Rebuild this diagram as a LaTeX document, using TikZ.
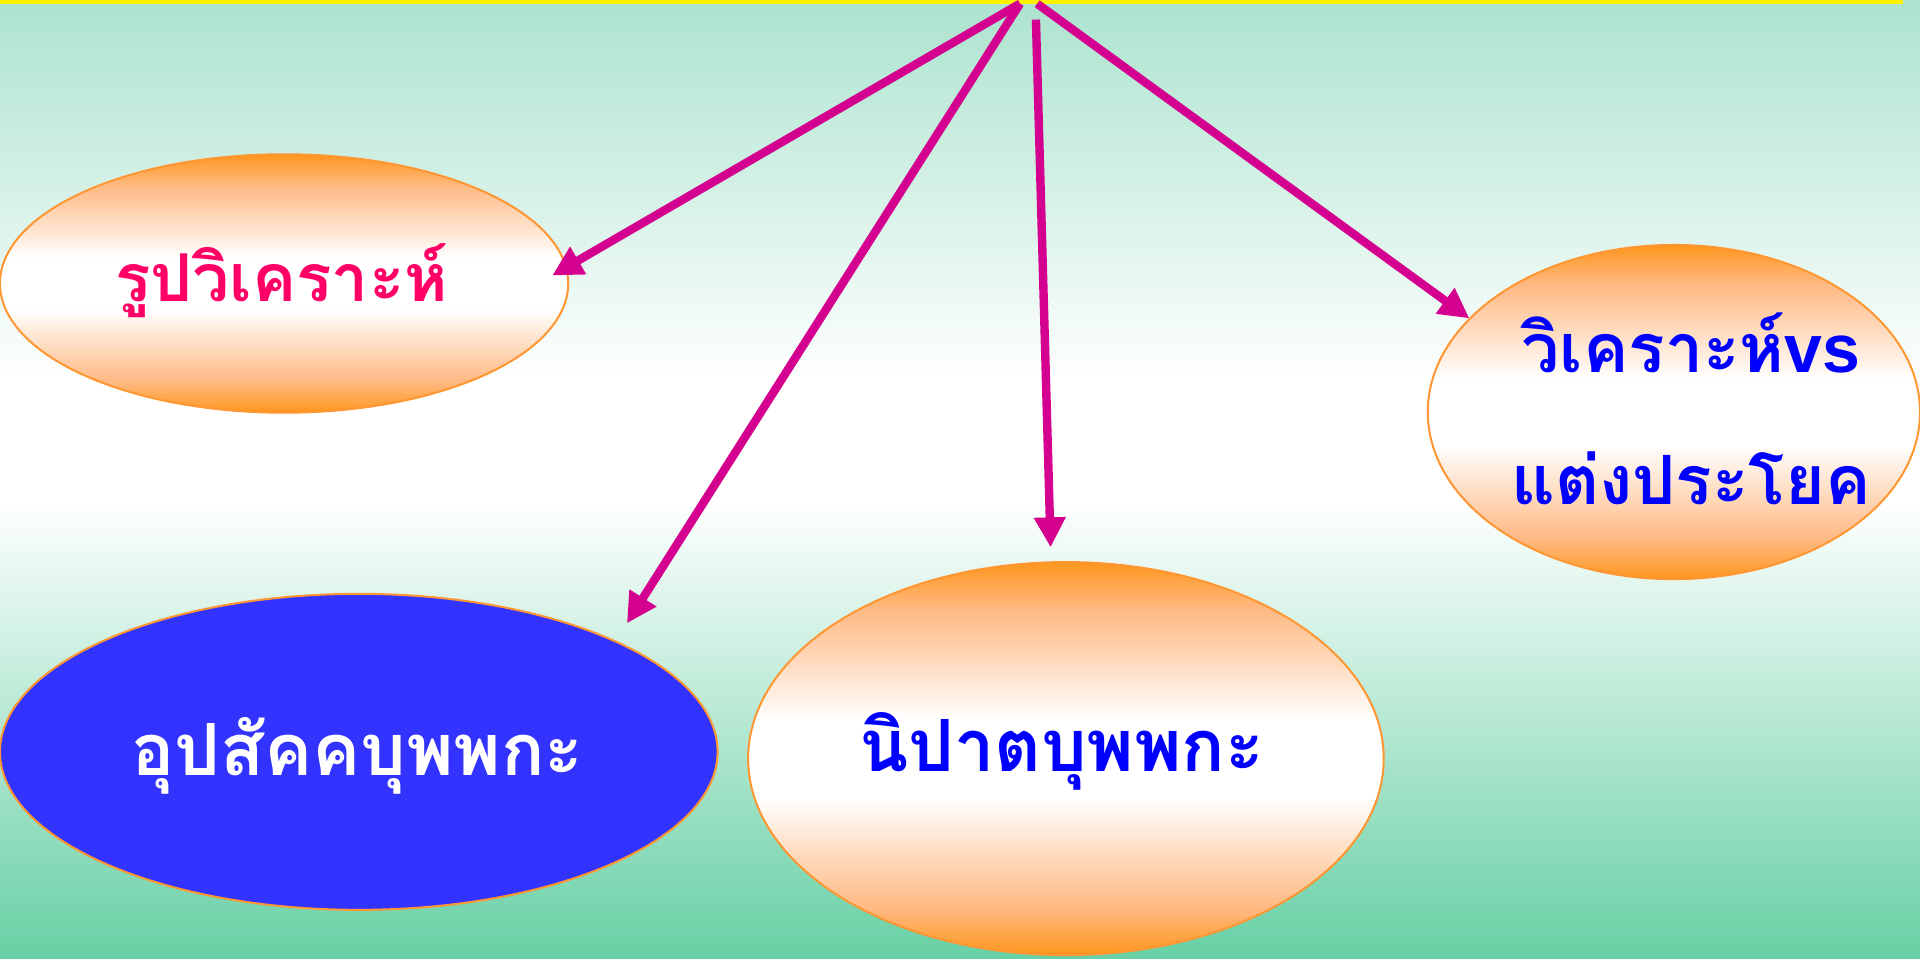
\documentclass[tikz,border=0pt]{standalone}
\usepackage{fontspec}
\newfontfamily\thaifont[Script=Thai]{Loma}
\setsansfont{Liberation Sans}
\usetikzlibrary{shapes.geometric,arrows.meta}
\definecolor{bgtop}{RGB}{172,227,206}
\definecolor{bgbot}{RGB}{104,208,165}
\definecolor{arrowc}{RGB}{212,0,143}
\definecolor{orangec}{RGB}{255,150,30}
\definecolor{peachc}{RGB}{255,185,130}
\definecolor{edgec}{RGB}{255,150,50}
\definecolor{pinkc}{RGB}{255,0,102}
\definecolor{bluec}{RGB}{0,0,255}
\definecolor{fillblue}{RGB}{51,51,255}
\pgfdeclareverticalshading{bgshade}{100bp}{color(0bp)=(bgbot); color(25bp)=(bgbot); color(49bp)=(white); color(55bp)=(white); color(75bp)=(bgtop); color(100bp)=(bgtop)}
\pgfdeclareverticalshading{ovalshade}{100bp}{color(0bp)=(orangec); color(25bp)=(orangec); color(31bp)=(peachc); color(45bp)=(white); color(55bp)=(white); color(69bp)=(peachc); color(75bp)=(orangec); color(100bp)=(orangec)}
\tikzset{
  oval/.style={ellipse, inner sep=0pt, draw=edgec, line width=1pt, shading=ovalshade},
  blueoval/.style={ellipse, inner sep=0pt, draw=edgec, line width=1pt, fill=fillblue},
  thaitext/.style={align=center},
  conn/.style={draw=arrowc, line width=4.2pt, -{Triangle[length=15pt,width=15pt]}}
}
\begin{document}
\begin{tikzpicture}[x=0.61224pt,y=-0.61224pt]
\useasboundingbox (0,0) rectangle (1568,782.5);
\shade[shading=bgshade] (0,0) rectangle (1568,782.5);
\fill[yellow] (0,0) rectangle (1554,3.5);

\node[oval, minimum width=284.1pt, minimum height=129.2pt] (rup) at (232,231.5) {};
\node[thaitext, text=pinkc, font=\thaifont\bfseries\fontsize{33}{40}\selectfont] (ruptext) at (230,229) {รูปวิเคราะห์};

\node[oval, minimum width=246.1pt, minimum height=167.1pt] (vs) at (1367,336.5) {};
\node[thaitext, text=bluec, font=\thaifont\bfseries\fontsize{34}{66}\selectfont] (vstext) at (1381,334) {วิเคราะห์{\sffamily\bfseries vs}\\แต่งประโยค};

\node[blueoval, minimum width=358.8pt, minimum height=158pt] (upa) at (293,614) {};
\node[thaitext, text=white, font=\thaifont\bfseries\fontsize{36}{44}\selectfont] (upatext) at (292,617) {อุปสัคคบุพพกะ};

\node[oval, minimum width=317.8pt, minimum height=196.5pt] (nipa) at (870.5,619.5) {};
\node[thaitext, text=bluec, font=\thaifont\bfseries\fontsize{36}{44}\selectfont] (nipatext) at (867,614) {นิปาตบุพพกะ};

\coordinate (s1) at (833,3);
\coordinate (s2) at (846,16);
\coordinate (s3) at (847,3);
\coordinate (t1) at (451,225);
\coordinate (t2) at (512,509);
\coordinate (t3) at (858,447);
\coordinate (t4) at (1200,260);

\draw[conn] (s1) -- (t1);
\draw[conn] (s1) -- (t2);
\draw[conn] (s2) -- (t3);
\draw[conn] (s3) -- (t4);
\end{tikzpicture}
\end{document}
